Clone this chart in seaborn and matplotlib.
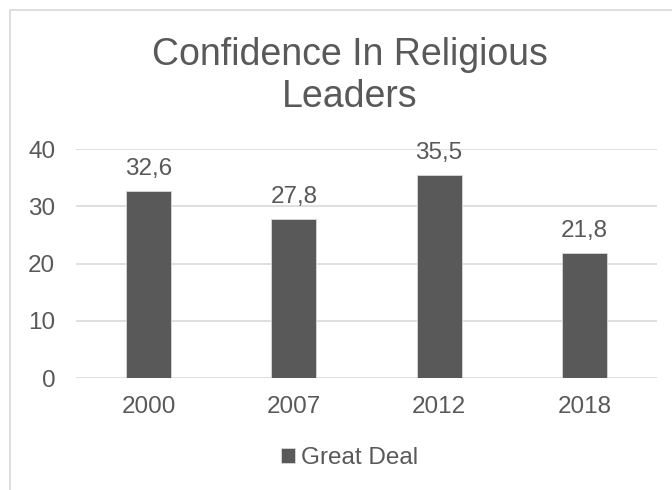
import numpy as np
import pandas as pd
import seaborn as sns
import matplotlib.pyplot as plt
from matplotlib.patches import Rectangle

years = ['2000', '2007', '2012', '2018']
great_deal = [32.6, 27.8, 35.5, 21.8]
series_name = 'Great Deal'
title = 'Confidence In Religious\nLeaders'

GREY = '#595959'
FS = 17.5

sns.set_style('white')
plt.rcParams['font.family'] = ['Liberation Sans', 'DejaVu Sans']

df = pd.DataFrame({'year': years, 'value': great_deal})

fig = plt.figure(figsize=(6.72, 4.9), dpi=100)
ax = fig.add_axes([76 / 672, 1 - 378 / 490, 581 / 672, 229 / 490])

sns.barplot(data=df, x='year', y='value', color=GREY, width=0.31,
            saturation=1, edgecolor='#d9d9d9', linewidth=0.6, ax=ax,
            label=series_name, zorder=3)
handles, labels = ax.get_legend_handles_labels()
if ax.get_legend() is not None:
    ax.get_legend().remove()

ax.set_ylim(0, 40)
ax.set_xlim(-0.5, 3.5)
ax.set_yticks([0, 10, 20, 30, 40])
ax.yaxis.grid(True, color='#d9d9d9', linewidth=1.2, zorder=0)
ax.set_axisbelow(True)
for s in ax.spines.values():
    s.set_visible(False)
ax.set_xlabel('')
ax.set_ylabel('')
ax.tick_params(axis='both', length=0, labelsize=FS, colors=GREY)
ax.tick_params(axis='y', pad=15)
ax.tick_params(axis='x', pad=13)

for cont in ax.containers:
    ax.bar_label(cont, labels=[f'{v:.1f}'.replace('.', ',') for v in great_deal],
                 padding=8, fontsize=FS, color=GREY)

fig.text(0.52, 1 - 76 / 490, title, ha='center', va='center', fontsize=27,
         color=GREY, linespacing=1.22)

fig.legend(handles, labels, loc='center', bbox_to_anchor=(0.52, 1 - 458 / 490),
           frameon=False, fontsize=FS, labelcolor=GREY, handlelength=0.55,
           handleheight=0.55, handletextpad=0.25)

fig.patches.append(Rectangle((10 / 672, -0.1), 1.2, 1.1 - 10 / 490,
                             transform=fig.transFigure, fill=False,
                             edgecolor='#d9d9d9', linewidth=1.2))

fig.savefig('out.png', dpi=100)
